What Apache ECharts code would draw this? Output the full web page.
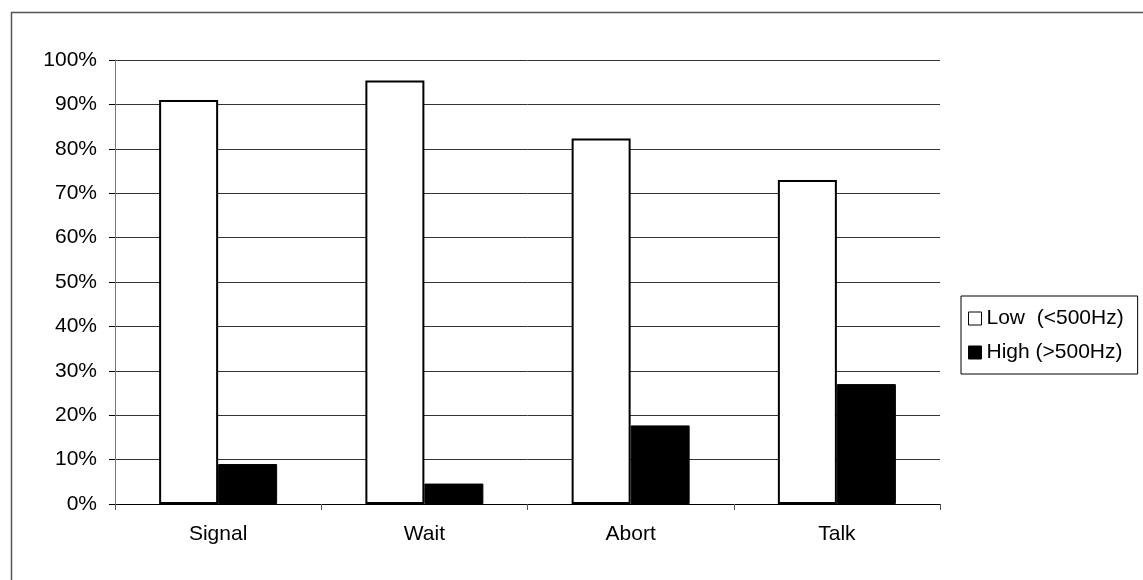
<!DOCTYPE html>
<html>
<head>
<meta charset="utf-8">
<script src="https://cdn.jsdelivr.net/npm/echarts@6/dist/echarts.min.js"></script>
<style>
html,body{margin:0;padding:0;background:#fff;}
#main{width:1143px;height:580px;}
</style>
</head>
<body>
<div id="main"></div>
<script>
const categories = ['Signal', 'Wait', 'Abort', 'Talk'];
const lowValues = [91.0, 95.4, 82.3, 73.0];
const highValues = [9.0, 4.6, 17.7, 27.0];
const seriesNames = ['Low  (<500Hz)', 'High (>500Hz)'];
const yTicks = { min: 0, max: 100, interval: 10 };

const FONT = '"Liberation Sans", Arial, sans-serif';
const chart = echarts.init(document.getElementById('main'), null, { renderer: 'canvas' });

chart.setOption({
  animation: false,
  backgroundColor: '#fff',
  textStyle: { fontFamily: FONT },
  graphic: [{
    type: 'rect',
    left: 9, top: 10,
    shape: { x: 0, y: 0, width: 1300, height: 700 },
    style: { fill: 'none', stroke: '#555', lineWidth: 1.5 },
    silent: true, z: -1
  }],
  grid: { left: 115, right: 203, top: 60, bottom: 76, containLabel: false },
  legend: {
    orient: 'vertical',
    left: 961, top: 296,
    padding: [12, 14, 11, 7],
    itemGap: 13,
    itemWidth: 13, itemHeight: 13,
    borderColor: '#000', borderWidth: 1,
    icon: 'rect',
    textStyle: { fontFamily: FONT, fontSize: 21, color: '#000', lineHeight: 21 },
    data: [
      { name: seriesNames[0], itemStyle: { color: '#fff', borderColor: '#000', borderWidth: 1 } },
      { name: seriesNames[1], itemStyle: { color: '#000', borderColor: '#000', borderWidth: 1 } }
    ]
  },
  xAxis: {
    type: 'category',
    data: categories,
    axisLine: { lineStyle: { color: '#000', width: 1 } },
    axisTick: { show: true, interval: 0, length: 6, alignWithLabel: false, lineStyle: { color: '#555' } },
    axisLabel: { margin: 20, fontFamily: FONT, fontSize: 21, color: '#000' },
    splitLine: { show: false }
  },
  yAxis: {
    type: 'value',
    min: yTicks.min, max: yTicks.max, interval: yTicks.interval,
    axisLine: { show: true, lineStyle: { color: '#777', width: 1 } },
    axisTick: { show: true, length: 6, lineStyle: { color: '#000' } },
    axisLabel: { margin: 18, fontFamily: FONT, fontSize: 21, color: '#000', formatter: v => v + '%' },
    splitLine: { show: true, lineStyle: { color: '#333', width: 1 } }
  },
  series: [
    {
      name: seriesNames[0], type: 'bar', data: lowValues,
      barWidth: 59, barGap: '0%',
      itemStyle: { color: '#fff', borderColor: '#000', borderWidth: 2 }
    },
    {
      name: seriesNames[1], type: 'bar', data: highValues,
      barWidth: 59, barGap: '0%',
      itemStyle: { color: '#000', borderColor: '#000', borderWidth: 1 }
    }
  ]
});
</script>
</body>
</html>
